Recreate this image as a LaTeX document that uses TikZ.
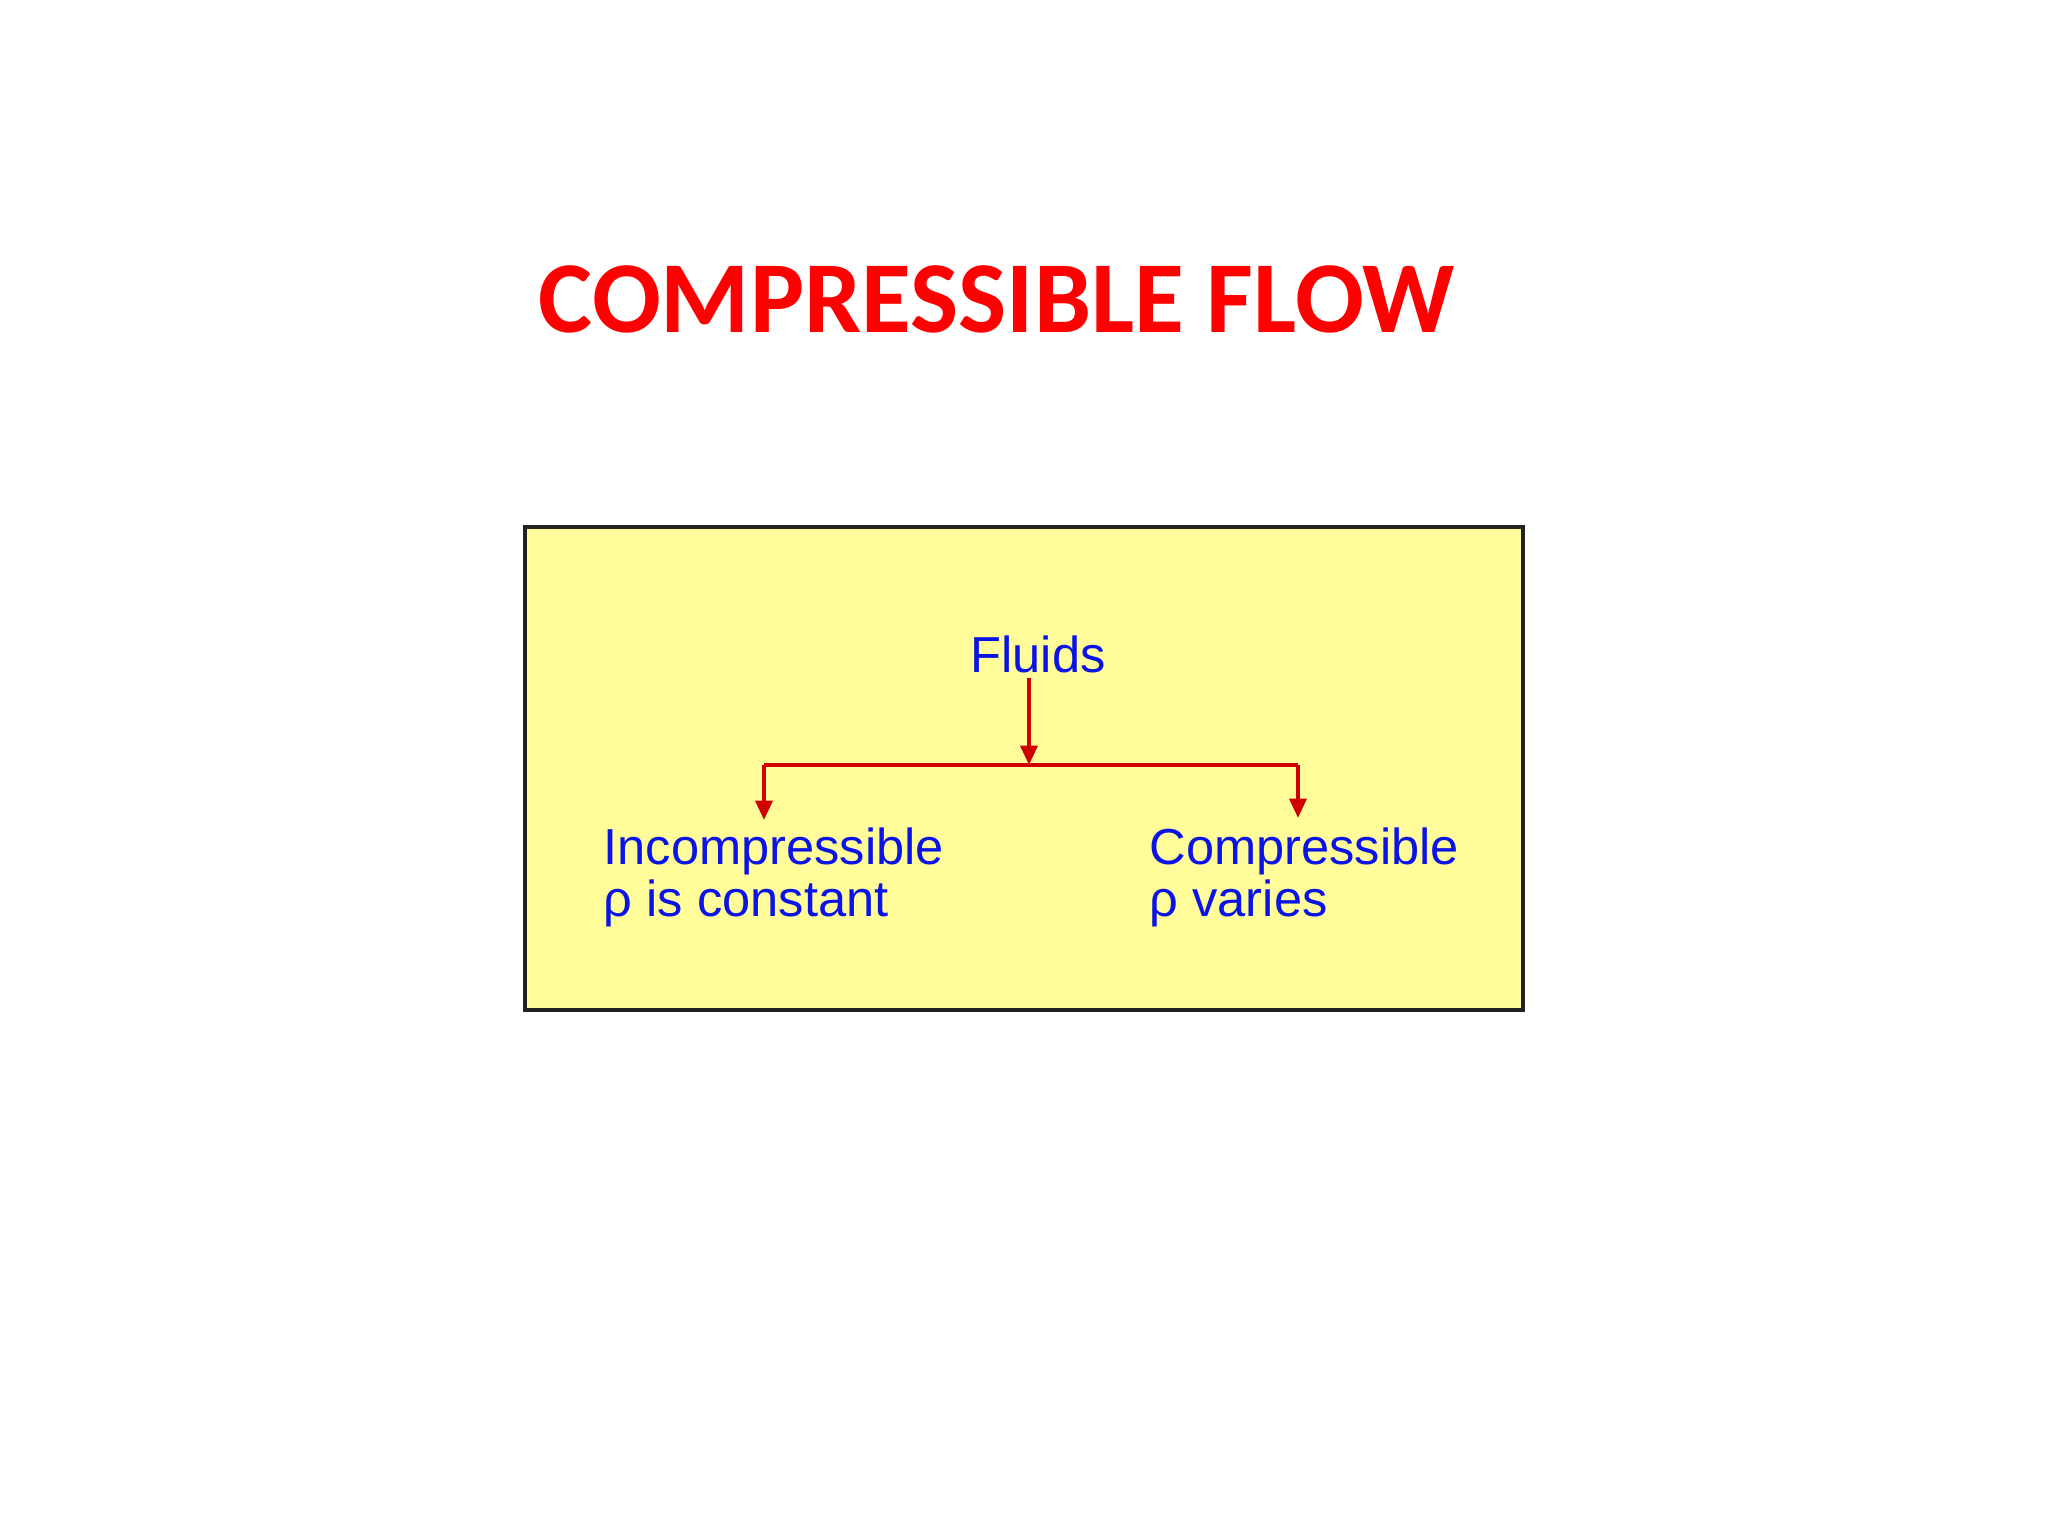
\documentclass[tikz,border=0pt]{standalone}
\usepackage{fontspec}
\setmainfont{Liberation Sans}
\newfontfamily\titlefont{Carlito}
\usetikzlibrary{arrows.meta, positioning, calc}
\definecolor{cTitle}{HTML}{FF0000}
\definecolor{cLabel}{HTML}{0A14E6}
\definecolor{cArrow}{HTML}{D00000}
\definecolor{cPanel}{HTML}{FFFC99}
\definecolor{cFrame}{HTML}{222222}
\tikzset{
  panel/.style={
    draw=cFrame, fill=cPanel, line width=1.1pt,
  },
  label/.style={
    font=\fontsize{14.4}{14.8}\selectfont, text=cLabel,
    inner sep=0pt, align=left,
  },
  arw/.style={-{Triangle[length=5.5pt, width=4.8pt]}, line width=1.05pt, color=#1},
  arw/.default=cArrow,
}
\begin{document}
\begin{tikzpicture}
  \useasboundingbox (0,0) rectangle (20.48,-15.36);

  % title
  \node[font=\titlefont\bfseries\fontsize{29}{34}\selectfont, text=cTitle,
        anchor=base, inner sep=0pt]
    (title) at (9.97,-3.33) {COMPRESSIBLE FLOW};

  % yellow panel
  \draw[panel] (5.25,-5.27) rectangle (15.23,-10.10);

  % classes
  \node[label, anchor=base] (fluids) at (10.38,-6.72) {Fluids};
  \node[label, anchor=north west] (incomp) at (6.03,-8.27)
    {Incompressible\\ρ is constant};
  \node[label, anchor=north west] (comp) at (11.49,-8.27)
    {Compressible\\ρ varies};

  % branching
  \coordinate (split) at (10.29,-7.65);
  \coordinate (lsplit) at (7.64,-7.65);
  \coordinate (rsplit) at (12.98,-7.65);
  \coordinate (ftop) at ($(fluids.south -| split)+(0,-0.05)$);

  \draw[arw] (ftop) -- (split);
  \draw[cArrow, line width=1.05pt] (lsplit) -- (rsplit);
  \draw[arw] (lsplit) -- ($(lsplit |- incomp.north)+(0,0.07)$);
  \draw[arw] (rsplit) -- ($(rsplit |- comp.north)+(0,0.09)$);

\end{tikzpicture}
\end{document}
